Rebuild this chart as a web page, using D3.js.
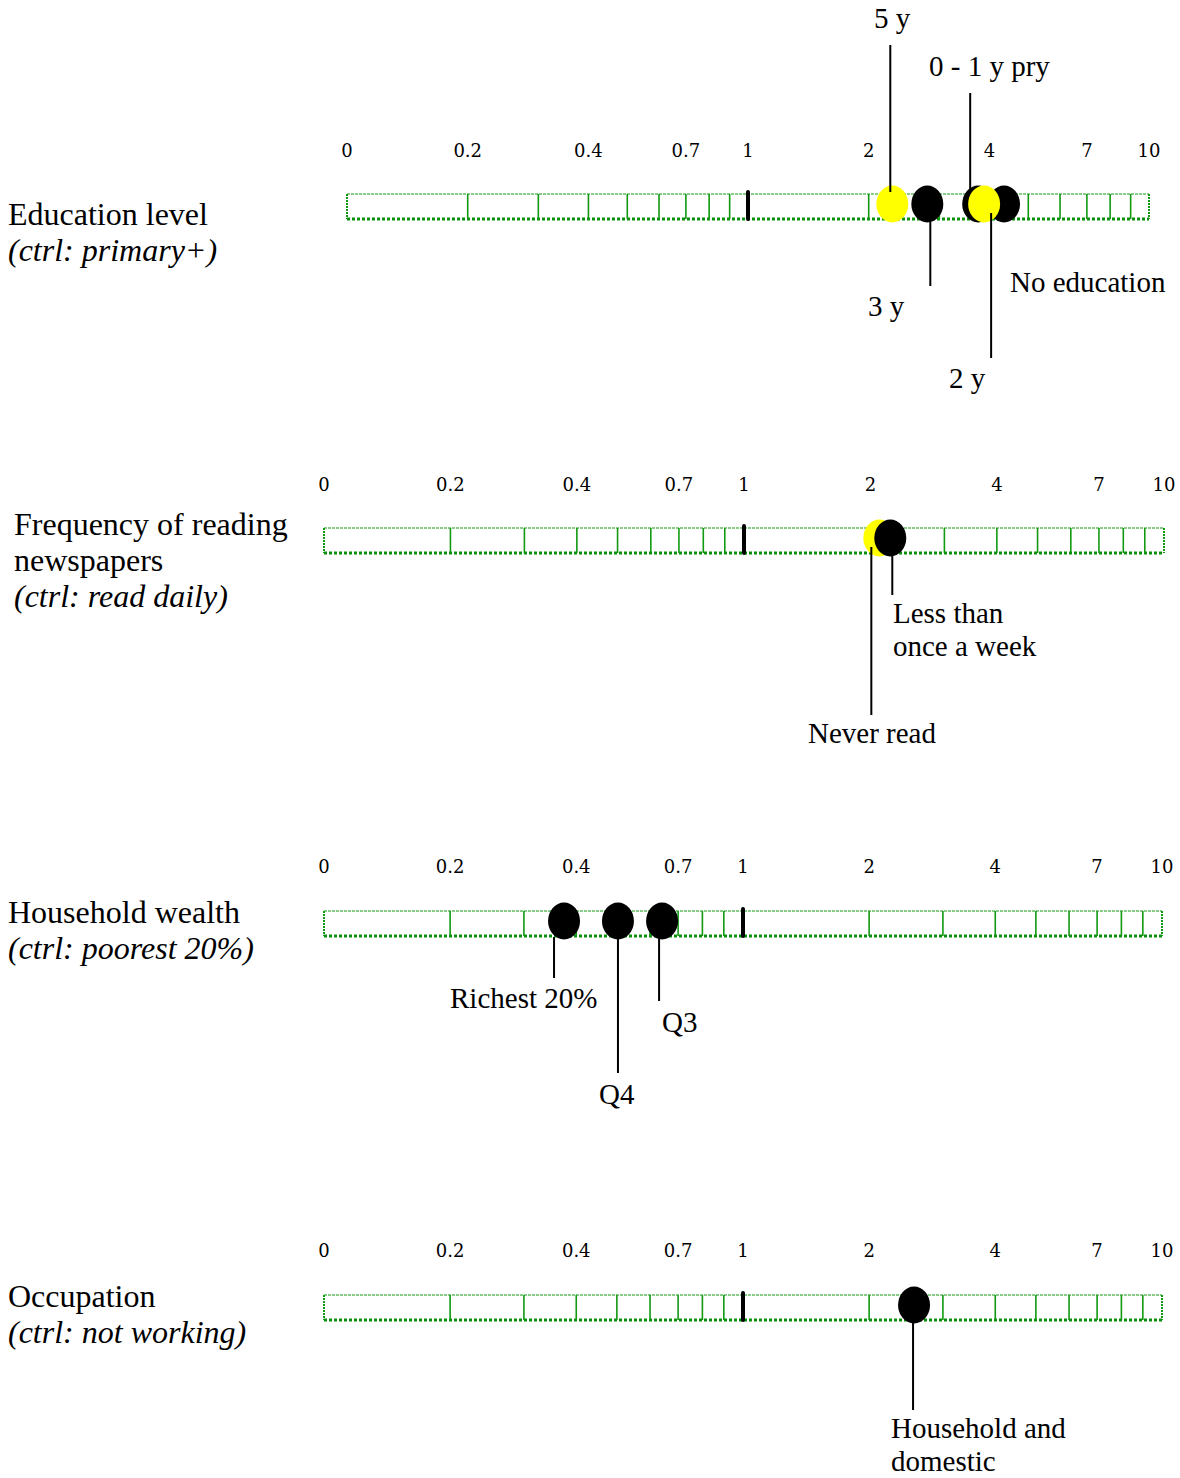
<!DOCTYPE html>
<html><head><meta charset="utf-8">
<script src="https://cdn.jsdelivr.net/npm/d3@7"></script>
<style>
html,body{margin:0;padding:0;background:#fff;}
svg{display:block;}
</style></head>
<body>
<svg id="chart" width="1180" height="1478"></svg>
<script>
// ---------- DATA ----------
const tickValues = [0.1, 0.2, 0.4, 0.7, 1, 2, 4, 7, 10];
const tickLabels = ["0", "0.2", "0.4", "0.7", "1", "2", "4", "7", "10"];
const minorTicks = [0.2, 0.3, 0.4, 0.5, 0.6, 0.7, 0.8, 0.9, 2, 3, 4, 5, 6, 7, 8, 9];

const panelTitles = ["Education level", "Frequency of reading\nnewspapers", "Household wealth", "Occupation"];
const panelControls = ["(ctrl: primary+)", "(ctrl: read daily)", "(ctrl: poorest 20%)", "(ctrl: not working)"];

const eduCategories = ["5 y", "3 y", "0 - 1 y pry", "No education", "2 y"];
const eduValues     = [2.29, 2.80, 3.75, 4.35, 3.88];
const eduGroup      = ["A", "B", "B", "B", "A"];

const readCategories = ["Never read", "Less than\nonce a week"];
const readValues     = [2.10, 2.23];
const readGroup      = ["A", "B"];

const wealthCategories = ["Richest 20%", "Q4", "Q3"];
const wealthValues     = [0.374, 0.503, 0.641];
const wealthGroup      = ["B", "B", "B"];

const occCategories = ["Household and\ndomestic"];
const occValues     = [2.56];
const occGroup      = ["B"];

// ---------- LAYOUT / STYLE ----------
const groupColor = {A: "#ffff00", B: "#000000"};
const panels = [
  {cats: eduCategories, vals: eduValues, grp: eduGroup,
   x0: 347, x1: 1149, barTop: 194, tickBase: 157, titleX: 8, titleBase: 225, lineGap: 36,
   ann: [
     {dx: -2, y1: 45, y2: 192, lx: 892, lb: 28, anchor: "middle"},
     {dx: 3, y1: 221, y2: 286, lx: 886, lb: 316, anchor: "middle"},
     {dx: -8, y1: 93, y2: 192, lx: 929, lb: 76, anchor: "start"},
     {dx: null, lx: 1010, lb: 292, anchor: "start"},
     {dx: 7, y1: 213, y2: 358, lx: 967, lb: 388, anchor: "middle"}
   ]},
  {cats: readCategories, vals: readValues, grp: readGroup,
   x0: 324, x1: 1164, barTop: 528, tickBase: 491, titleX: 14, titleBase: 535, lineGap: 36,
   ann: [
     {dx: -8, y1: 547, y2: 715, lx: 808, lb: 743, anchor: "start"},
     {dx: 2, y1: 555, y2: 595, lx: 893, lb: 623, anchor: "start"}
   ]},
  {cats: wealthCategories, vals: wealthValues, grp: wealthGroup,
   x0: 324, x1: 1162, barTop: 911, tickBase: 873, titleX: 8, titleBase: 923, lineGap: 36,
   ann: [
     {dx: -10, y1: 937, y2: 978, lx: 450, lb: 1008, anchor: "start"},
     {dx: 0, y1: 938, y2: 1073, lx: 599, lb: 1104, anchor: "start"},
     {dx: -3, y1: 938, y2: 1001, lx: 662, lb: 1032, anchor: "start"}
   ]},
  {cats: occCategories, vals: occValues, grp: occGroup,
   x0: 324, x1: 1162, barTop: 1295, tickBase: 1257, titleX: 8, titleBase: 1307, lineGap: 36,
   ann: [
     {dx: -1, y1: 1322, y2: 1410, lx: 891, lb: 1438, anchor: "start"}
   ]}
];

const barH = 25, rx = 16, ry = 18.5;
const green = "#119911";
const serif = "'Liberation Serif','Times New Roman',serif";

const svg = d3.select("#chart");

panels.forEach((p, pi) => {
  const x = d3.scaleLog().domain([0.1, 10]).range([p.x0, p.x1]);
  const g = svg.append("g");

  // title
  const tlines = panelTitles[pi].split("\n");
  const title = g.append("text").attr("font-family", serif).attr("font-size", 32).attr("fill", "#000");
  tlines.forEach((t, i) => title.append("tspan").attr("x", p.titleX).attr("y", p.titleBase + i * p.lineGap).text(t));
  g.append("text").attr("font-family", serif).attr("font-size", 32).attr("font-style", "italic")
    .attr("x", p.titleX).attr("y", p.titleBase + tlines.length * p.lineGap).text(panelControls[pi]);

  // tick labels
  g.selectAll(".tl").data(tickValues).join("text")
    .attr("x", d => x(d)).attr("y", p.tickBase)
    .attr("text-anchor", "middle")
    .attr("font-family", "'DejaVu Serif',serif")
    .attr("font-size", 18).attr("fill", "#000")
    .text((d, i) => tickLabels[i]);

  // bar background
  const yT = p.barTop, yB = p.barTop + barH;
  g.append("line").attr("x1", x(0.1)).attr("x2", x(10)).attr("y1", yT).attr("y2", yT)
    .attr("stroke", green).attr("stroke-width", 1.2).attr("stroke-dasharray", "3,1");
  g.append("line").attr("x1", x(0.1)).attr("x2", x(10)).attr("y1", yB).attr("y2", yB)
    .attr("stroke", "#0a8f0a").attr("stroke-width", 3).attr("stroke-dasharray", "3,2");
  [0.1, 10].forEach(v => g.append("line").attr("x1", x(v)).attr("x2", x(v)).attr("y1", yT).attr("y2", yB)
    .attr("stroke", green).attr("stroke-width", 2).attr("stroke-dasharray", "2,1"));

  // minor ticks
  g.selectAll(".mt").data(minorTicks).join("line")
    .attr("x1", d => x(d)).attr("x2", d => x(d))
    .attr("y1", yT).attr("y2", yB)
    .attr("stroke", green).attr("stroke-width", 1.6);

  // reference line at 1
  g.append("line").attr("x1", x(1)).attr("x2", x(1)).attr("y1", yT - 2).attr("y2", yB)
    .attr("stroke", "#000").attr("stroke-width", 4).attr("stroke-linecap", "round");

  // points
  const cy = p.barTop + 10;
  const pts = p.vals.map((v, i) => ({v, i}));
  g.selectAll(".pt").data(pts).join("ellipse")
    .attr("cx", d => x(d.v)).attr("cy", cy).attr("rx", rx).attr("ry", ry)
    .attr("fill", d => groupColor[p.grp[d.i]]);

  // leader lines + labels
  pts.forEach(d => {
    const a = p.ann[d.i];
    if (a.dx !== null) {
      const lx = x(d.v) + a.dx;
      g.append("line").attr("x1", lx).attr("x2", lx).attr("y1", a.y1).attr("y2", a.y2)
        .attr("stroke", "#000").attr("stroke-width", 2);
    }
    const lines = p.cats[d.i].split("\n");
    const t = g.append("text").attr("font-family", serif).attr("font-size", 29)
      .attr("text-anchor", a.anchor).attr("fill", "#000");
    lines.forEach((s, k) => t.append("tspan").attr("x", a.lx).attr("y", a.lb + k * 33).text(s));
  });
});
</script>
</body></html>
